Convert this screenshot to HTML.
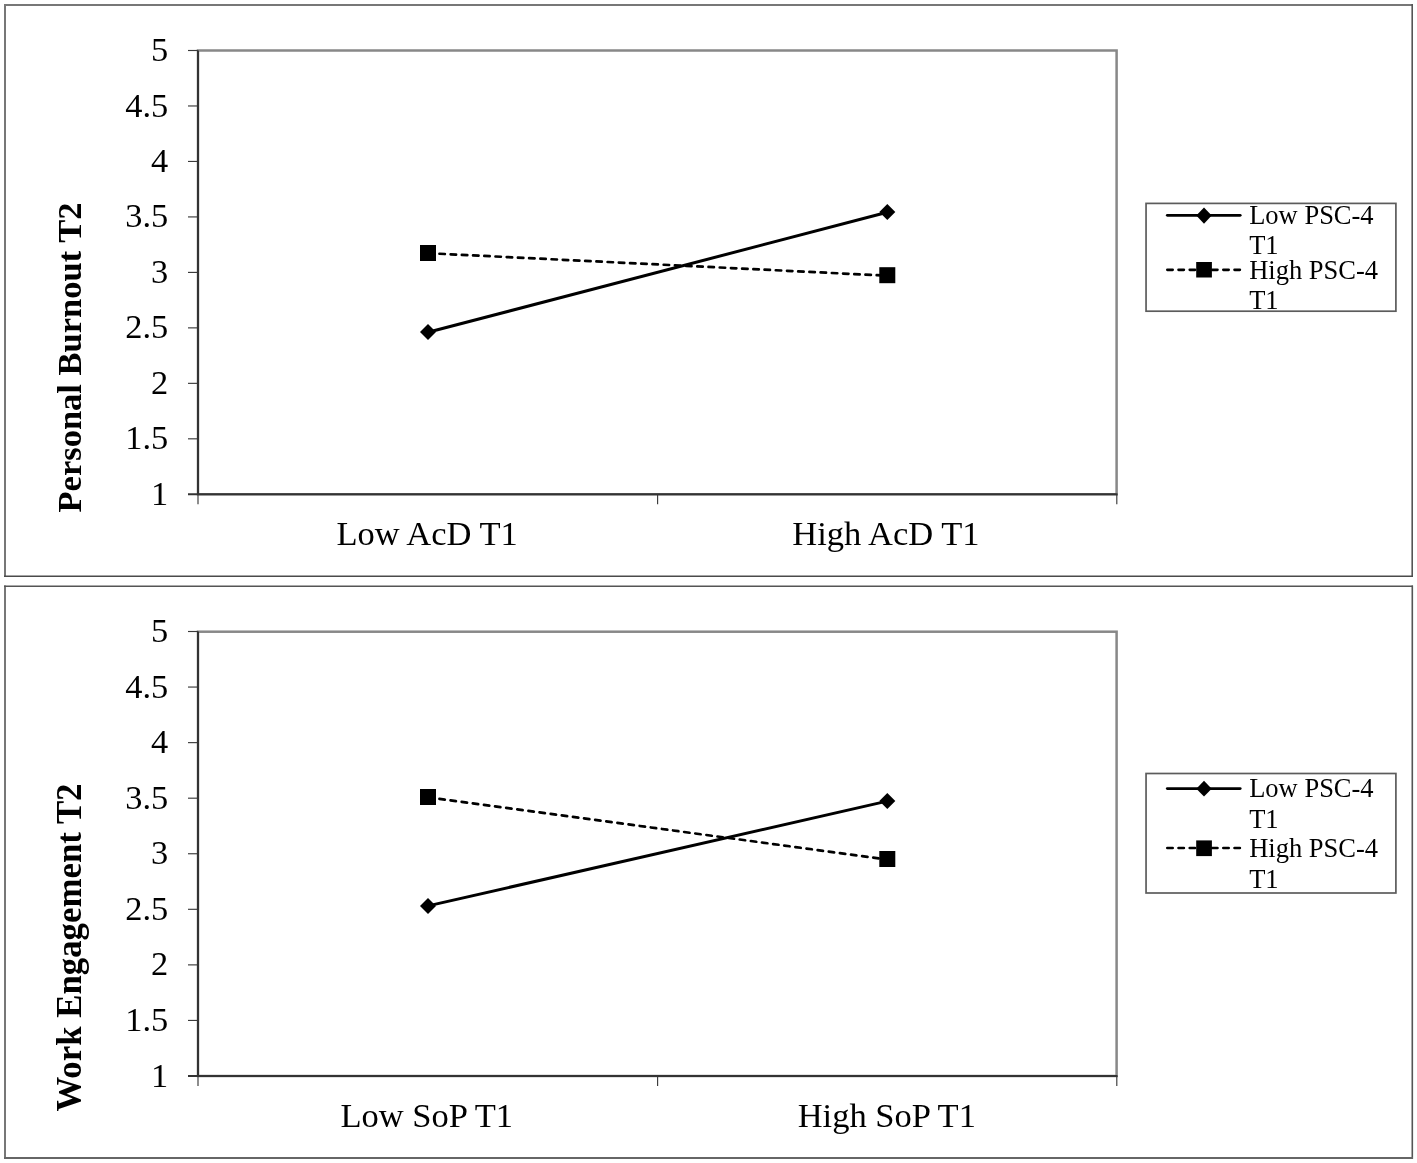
<!DOCTYPE html>
<html>
<head>
<meta charset="utf-8">
<style>
html,body{margin:0;padding:0;background:#fff;}
svg{display:block;}
text{font-family:"Liberation Serif","Times New Roman",serif;fill:#000;}
.tk{font-size:34.4px;text-anchor:end;}
.xl{font-size:34.5px;text-anchor:middle;}
.yt{font-size:34.5px;font-weight:bold;text-anchor:middle;}
.lg{font-size:26.5px;}
</style>
</head>
<body>
<svg width="1417" height="1163" viewBox="0 0 1417 1163">
<rect x="0" y="0" width="1417" height="1163" fill="#fff"/>

<!-- ===== TOP PANEL ===== -->
<g id="top">
<g fill="none">
<line x1="5" y1="4" x2="5" y2="577" stroke="#777" stroke-width="2"/>
<line x1="4" y1="5" x2="1413" y2="5" stroke="#777" stroke-width="2"/>
<line x1="1412.2" y1="4" x2="1412.2" y2="577" stroke="#555" stroke-width="1.6"/>
<line x1="4" y1="576.3" x2="1413" y2="576.3" stroke="#4a4a4a" stroke-width="1.5"/>
</g>
<!-- plot area -->
<rect x="198" y="50.5" width="918.6" height="443.8" fill="none" stroke="#888" stroke-width="2.5"/>
<!-- y ticks -->
<g stroke="#3a3a3a" stroke-width="1.15">
<line x1="188" y1="50.5" x2="198" y2="50.5"/>
<line x1="188" y1="105.97" x2="198" y2="105.97"/>
<line x1="188" y1="161.45" x2="198" y2="161.45"/>
<line x1="188" y1="216.92" x2="198" y2="216.92"/>
<line x1="188" y1="272.4" x2="198" y2="272.4"/>
<line x1="188" y1="327.87" x2="198" y2="327.87"/>
<line x1="188" y1="383.35" x2="198" y2="383.35"/>
<line x1="188" y1="438.82" x2="198" y2="438.82"/>
<line x1="198" y1="494.3" x2="198" y2="504.3"/>
<line x1="657.6" y1="494.3" x2="657.6" y2="504.3"/>
<line x1="1116.8" y1="494.3" x2="1116.8" y2="504.3"/>
</g>
<!-- axes -->
<line x1="198" y1="50.5" x2="198" y2="494.3" stroke="#333" stroke-width="2"/>
<line x1="188" y1="494.3" x2="1117.5" y2="494.3" stroke="#333" stroke-width="2"/>
<!-- tick labels -->
<text class="tk" x="168.2" y="61">5</text>
<text class="tk" x="168.2" y="116.5">4.5</text>
<text class="tk" x="168.2" y="172">4</text>
<text class="tk" x="168.2" y="227.4">3.5</text>
<text class="tk" x="168.2" y="282.9">3</text>
<text class="tk" x="168.2" y="338.4">2.5</text>
<text class="tk" x="168.2" y="393.8">2</text>
<text class="tk" x="168.2" y="449.3">1.5</text>
<text class="tk" x="168.2" y="504.8">1</text>
<!-- x labels -->
<text class="xl" x="427.1" y="545.3">Low AcD T1</text>
<text class="xl" x="885.9" y="545.3">High AcD T1</text>
<!-- y title -->
<text class="yt" transform="translate(80.6,357.5) rotate(-90)" x="0" y="0">Personal Burnout T2</text>
<!-- series -->
<line x1="428" y1="253.2" x2="887.3" y2="275.7" stroke="#000" stroke-width="2.7" stroke-linecap="round" stroke-dasharray="5.4 5.825" stroke-dashoffset="-0.235"/>
<line x1="428" y1="332.3" x2="887.3" y2="212.3" stroke="#000" stroke-width="3"/>
<rect x="420" y="245" width="16" height="16" fill="#000"/>
<rect x="879.3" y="267.2" width="16" height="16" fill="#000"/>
<path d="M428 324 L436 332 L428 340 L420 332 Z" fill="#000"/>
<path d="M887.3 204 L895.3 212 L887.3 220 L879.3 212 Z" fill="#000"/>
<!-- legend -->
<rect x="1146.05" y="203.4" width="249.85" height="107.8" fill="none" stroke="#5c5c5c" stroke-width="1.7"/>
<line x1="1167.3" y1="215.3" x2="1240.2" y2="215.3" stroke="#000" stroke-width="2.8" stroke-linecap="round"/>
<path d="M1204 207.6 L1211.7 215.6 L1204 223.7 L1196.3 215.6 Z" fill="#000"/>
<line x1="1167.35" y1="269.8" x2="1240" y2="269.8" stroke="#000" stroke-width="2.7" stroke-linecap="round" stroke-dasharray="5.3 5.9"/>
<rect x="1196.2" y="262" width="15.7" height="15.5" fill="#000"/>
<text class="lg" x="1249.2" y="223.7">Low PSC-4</text>
<text class="lg" x="1249.2" y="254">T1</text>
<text class="lg" x="1249.2" y="278.6">High PSC-4</text>
<text class="lg" x="1249.2" y="308.7">T1</text>
</g>

<!-- ===== BOTTOM PANEL ===== -->
<g id="bottom">
<g fill="none">
<line x1="5" y1="585.4" x2="5" y2="1159" stroke="#777" stroke-width="2"/>
<line x1="4" y1="586.2" x2="1413" y2="586.2" stroke="#555" stroke-width="1.5"/>
<line x1="1412.3" y1="585.4" x2="1412.3" y2="1159" stroke="#555" stroke-width="1.6"/>
<line x1="4" y1="1158" x2="1413" y2="1158" stroke="#666" stroke-width="1.8"/>
</g>
<rect x="198" y="631.7" width="918.6" height="444.3" fill="none" stroke="#888" stroke-width="2.5"/>
<g stroke="#3a3a3a" stroke-width="1.15">
<line x1="188" y1="631.5" x2="198" y2="631.5"/>
<line x1="188" y1="687.06" x2="198" y2="687.06"/>
<line x1="188" y1="742.63" x2="198" y2="742.63"/>
<line x1="188" y1="798.19" x2="198" y2="798.19"/>
<line x1="188" y1="853.75" x2="198" y2="853.75"/>
<line x1="188" y1="909.31" x2="198" y2="909.31"/>
<line x1="188" y1="964.88" x2="198" y2="964.88"/>
<line x1="188" y1="1020.44" x2="198" y2="1020.44"/>
<line x1="198" y1="1076" x2="198" y2="1086"/>
<line x1="657.6" y1="1076" x2="657.6" y2="1086"/>
<line x1="1116.8" y1="1076" x2="1116.8" y2="1086"/>
</g>
<line x1="198" y1="631.5" x2="198" y2="1076" stroke="#333" stroke-width="2"/>
<line x1="188" y1="1076" x2="1117.5" y2="1076" stroke="#333" stroke-width="2"/>
<text class="tk" x="168.2" y="642">5</text>
<text class="tk" x="168.2" y="697.6">4.5</text>
<text class="tk" x="168.2" y="753.1">4</text>
<text class="tk" x="168.2" y="808.7">3.5</text>
<text class="tk" x="168.2" y="864.3">3</text>
<text class="tk" x="168.2" y="919.8">2.5</text>
<text class="tk" x="168.2" y="975.4">2</text>
<text class="tk" x="168.2" y="1031">1.5</text>
<text class="tk" x="168.2" y="1086.5">1</text>
<text class="xl" x="426.7" y="1127.4">Low SoP T1</text>
<text class="xl" x="886.8" y="1127.4">High SoP T1</text>
<text class="yt" style="font-size:34.8px" transform="translate(80.6,947.5) rotate(-90)" x="0" y="0">Work Engagement T2</text>
<line x1="428" y1="797.3" x2="887.3" y2="859.5" stroke="#000" stroke-width="2.7" stroke-linecap="round" stroke-dasharray="5.4 5.825" stroke-dashoffset="-0.315"/>
<line x1="428" y1="905.9" x2="887.3" y2="801.1" stroke="#000" stroke-width="3"/>
<rect x="420" y="789" width="16" height="16" fill="#000"/>
<rect x="879.3" y="851" width="16" height="16" fill="#000"/>
<path d="M428 897.9 L436 905.9 L428 913.9 L420 905.9 Z" fill="#000"/>
<path d="M887.3 793.1 L895.3 801.1 L887.3 809.1 L879.3 801.1 Z" fill="#000"/>
<rect x="1146.05" y="773.5" width="249.85" height="119.5" fill="none" stroke="#5c5c5c" stroke-width="1.7"/>
<line x1="1167.3" y1="788.6" x2="1240.2" y2="788.6" stroke="#000" stroke-width="2.8" stroke-linecap="round"/>
<path d="M1204 780.8 L1211.7 788.7 L1204 796.6 L1196.3 788.7 Z" fill="#000"/>
<line x1="1167.35" y1="848" x2="1240" y2="848" stroke="#000" stroke-width="2.7" stroke-linecap="round" stroke-dasharray="5.3 5.9"/>
<rect x="1196.2" y="840.4" width="15.7" height="15.7" fill="#000"/>
<text class="lg" x="1249.2" y="796.9">Low PSC-4</text>
<text class="lg" x="1249.2" y="827.7">T1</text>
<text class="lg" x="1249.2" y="857.3">High PSC-4</text>
<text class="lg" x="1249.2" y="887.5">T1</text>
</g>
</svg>
</body>
</html>
